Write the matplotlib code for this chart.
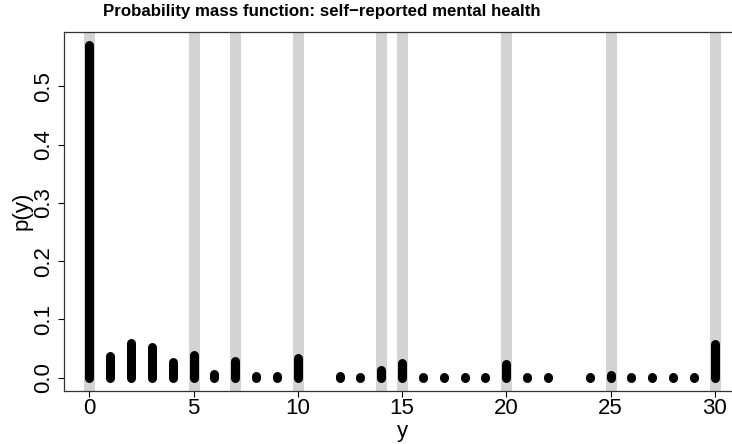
import numpy as np
import matplotlib.pyplot as plt

plt.rcParams['font.family'] = ['Liberation Sans', 'DejaVu Sans']

# 観測値 y とその確率 p(y)（11, 23 はデータなし）
y_vals = [0, 1, 2, 3, 4, 5, 6, 7, 8, 9, 10, 12, 13, 14, 15, 16, 17, 18, 19,
          20, 21, 22, 24, 25, 26, 27, 28, 29, 30]
p_vals = [0.570, 0.037, 0.060, 0.052, 0.027, 0.039, 0.007, 0.028, 0.003, 0.003,
          0.033, 0.003, 0.002, 0.014, 0.026, 0.002, 0.002, 0.002, 0.002,
          0.024, 0.002, 0.002, 0.002, 0.005, 0.002, 0.002, 0.002, 0.002, 0.057]
# 丸めで山になっている値
heap_vals = [0, 5, 7, 10, 14, 15, 20, 25, 30]
x_ticks = [0, 5, 10, 15, 20, 25, 30]
y_ticks = [0.0, 0.1, 0.2, 0.3, 0.4, 0.5]

fig = plt.figure(figsize=(7.32, 4.44), dpi=100)
ax = fig.add_axes([0.0878, 0.1200, 0.923, 0.8086])

for v in heap_vals:
    ax.axvline(v, color='#D3D3D3', lw=7.9, solid_capstyle='butt', zorder=1)

ax.vlines(y_vals, 0, p_vals, colors='black', lw=6.5, capstyle='round', zorder=3)

ax.set_xlim(-1.2, 31.2)
ax.set_ylim(-0.0223, 0.5935)
ax.set_xticks(x_ticks)
ax.set_xticklabels([str(t) for t in x_ticks])
ax.set_yticks(y_ticks)
ax.set_yticklabels([f'{t:.1f}' for t in y_ticks], rotation=90, va='center')
ax.tick_params(axis='both', direction='out', length=4, width=0.8, labelsize=16, color='black')
ax.tick_params(axis='x', pad=1)
ax.tick_params(axis='y', pad=3)
for s in ax.spines.values():
    s.set_linewidth(0.9)
    s.set_color('#333333')
ax.spines['right'].set_visible(False)

fig.text(0.439, 0.974, 'Probability mass function: self\u2212reported mental health',
         ha='center', va='center', fontsize=12.2, fontweight='bold')
fig.text(22 / 732, 1 - 211 / 444, 'p(y)', rotation=90, ha='center', va='center', fontsize=16)
fig.text(402 / 732, 1 - 431 / 444, 'y', ha='center', va='center', fontsize=16)

fig.savefig('out.png', dpi=100)
